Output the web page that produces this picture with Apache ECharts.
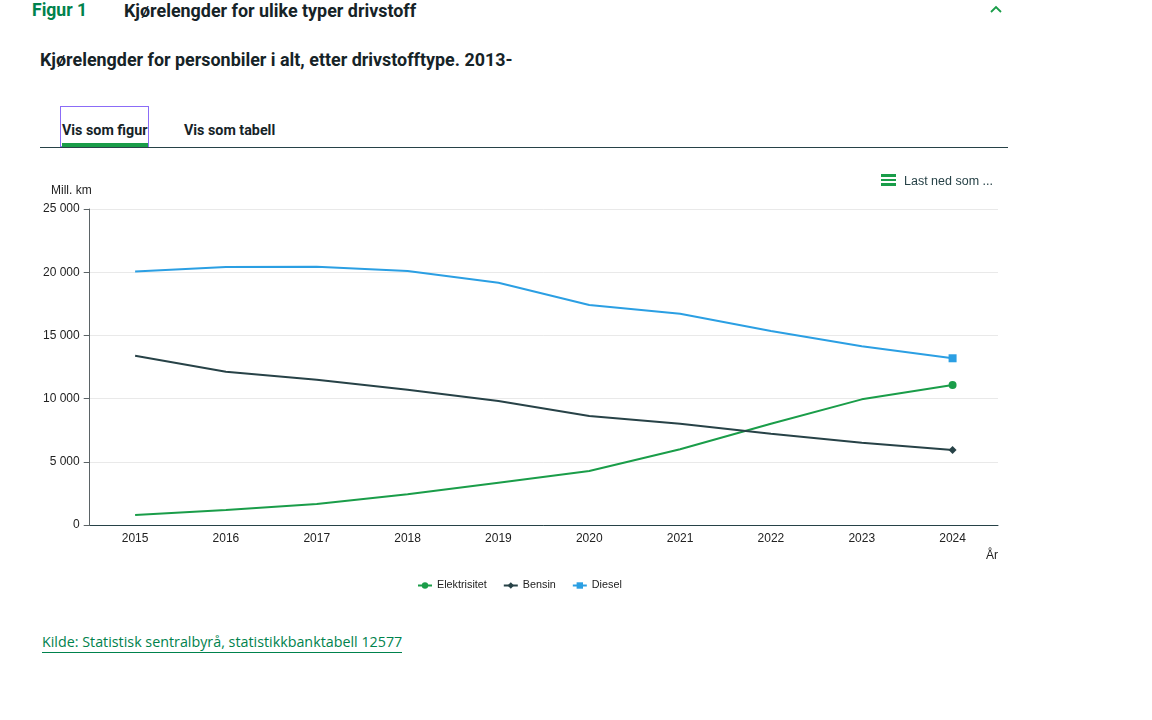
<!DOCTYPE html>
<html>
<head>
<meta charset="utf-8">
<script src="https://cdn.jsdelivr.net/npm/echarts@6/dist/echarts.min.js"></script>
<style>
  html, body { margin:0; padding:0; background:#fff; width:1152px; height:720px; overflow:hidden; }
  body { position:relative; font-family: Roboto, "Liberation Sans", Arial, sans-serif; color:#162327; }
  .abs { position:absolute; white-space:nowrap; }
  #figlabel { left:32px; top:0px; font-size:17.6px; font-weight:700; color:#00824d; }
  #figtitle { left:124px; top:0px; font-size:17.9px; font-weight:700; color:#162327; }
  #chev { left:989px; top:4px; width:14px; height:10px; }
  #subtitle { left:40px; top:49px; font-size:17.9px; font-weight:700; color:#162327; }
  #tabfocus { left:60px; top:106px; width:89px; height:41px; border:1px solid #8b6cf7; box-sizing:border-box; }
  #tab1 { left:62px; top:122px; font-size:14.3px; font-weight:700; }
  #tab1line { left:62px; top:143px; width:86px; height:4px; background:#1a9d49; }
  #tab2 { left:184px; top:122px; font-size:14.3px; font-weight:700; }
  #hr { left:40px; top:147px; width:968px; height:1px; background:#274247; }
  #dl { left:881px; top:174px; font-family:"Liberation Sans", Arial, sans-serif; font-size:12.5px; color:#274247; }
  #dl .ic { display:inline-block; vertical-align:middle; width:15px; margin-right:8px; position:relative; top:-2px; }
  #dl .ic i { display:block; height:2.5px; background:#1a9d49; margin:2px 0; }
  #chart { left:40px; top:161px; width:968px; height:440px; }
  #src { left:42px; top:632px; font-family:"Open Sans", sans-serif; font-size:14.3px; color:#00824d; border-bottom:1px solid #00824d; padding-bottom:1px; }
</style>
</head>
<body>
<div class="abs" id="figlabel">Figur 1</div>
<div class="abs" id="figtitle">Kjørelengder for ulike typer drivstoff</div>
<svg class="abs" id="chev" viewBox="0 0 14 10"><polyline points="2,8 7,3 12,8" fill="none" stroke="#1a9d49" stroke-width="1.8"/></svg>
<div class="abs" id="subtitle">Kjørelengder for personbiler i alt, etter drivstofftype. 2013-</div>
<div class="abs" id="tabfocus"></div>
<div class="abs" id="tab1">Vis som figur</div>
<div class="abs" id="tab1line"></div>
<div class="abs" id="tab2">Vis som tabell</div>
<div class="abs" id="hr"></div>
<div class="abs" id="chart"></div>
<div class="abs" id="dl"><span class="ic"><i></i><i></i><i></i></span>Last ned som ...</div>
<div class="abs" id="src">Kilde: Statistisk sentralbyrå, statistikkbanktabell 12577</div>
<script>
const years = ['2015','2016','2017','2018','2019','2020','2021','2022','2023','2024'];
const elektrisitet = [790, 1190, 1660, 2430, 3350, 4270, 5990, 8010, 9940, 11080];
const bensin = [13390, 12130, 11500, 10700, 9810, 8620, 8010, 7220, 6510, 5930];
const diesel = [20050, 20410, 20440, 20090, 19170, 17400, 16720, 15350, 14150, 13190];
const yTicks = [0, 5000, 10000, 15000, 20000, 25000];

const fmt = v => String(v).replace(/\B(?=(\d{3})+(?!\d))/g, '\u00a0');
const chart = echarts.init(document.getElementById('chart'), null, {renderer:'canvas'});
const lastOnly = size => (v, p) => p.dataIndex === years.length - 1 ? size : 0;
function mk(name, data, color, symbol, size) {
  return {
    name, type:'line', data, symbol, symbolSize: lastOnly(size), showSymbol:true,
    lineStyle:{ color, width:2 }, itemStyle:{ color }, emphasis:{disabled:true}
  };
}
chart.setOption({
  animation:false,
  textStyle:{ fontFamily:'"Liberation Sans", Arial, sans-serif' },
  grid:{ left:49, right:10, top:48, bottom:76, containLabel:false },
  xAxis:{
    type:'category', data:years, boundaryGap:true,
    axisLine:{ lineStyle:{ color:'#274247', width:1 } },
    axisTick:{ alignWithLabel:true, length:6, lineStyle:{ color:'#274247' } },
    axisLabel:{ color:'#222', fontSize:12, margin:8 },
  },
  yAxis:{
    type:'value', min:yTicks[0], max:yTicks[yTicks.length-1], interval:5000,
    name:'Mill. km', nameLocation:'end', nameGap:12,
    nameTextStyle:{ color:'#222', fontSize:12, align:'right', padding:[0,-2,0,0] },
    axisLine:{ show:true, lineStyle:{ color:'#5b6366' } },
    axisTick:{ show:true, length:6, lineStyle:{ color:'#5b6366' } },
    axisLabel:{ color:'#222', fontSize:12, margin:10, formatter: v => fmt(v) },
    splitLine:{ lineStyle:{ color:'#e9e9e9' } }
  },
  legend:{
    bottom:5, left:372, itemWidth:14, itemHeight:8, itemGap:16,
    textStyle:{ color:'#222', fontSize:10.8 },
    data:['Elektrisitet','Bensin','Diesel']
  },
  graphic:[{ type:'text', right:10, top:389, style:{ text:'År', fill:'#222', font:'12px "Liberation Sans", Arial, sans-serif' } }],
  series:[
    mk('Elektrisitet', elektrisitet, '#1a9d49', 'circle', 8),
    mk('Bensin', bensin, '#274247', 'diamond', 8),
    mk('Diesel', diesel, '#2b9fe3', 'rect', 8)
  ]
});
</script>
</body>
</html>
